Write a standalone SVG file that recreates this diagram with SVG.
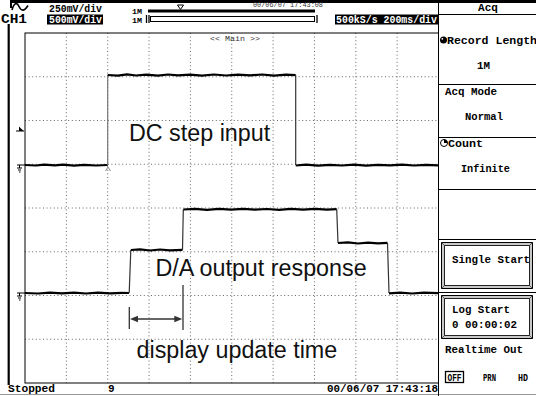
<svg xmlns="http://www.w3.org/2000/svg" width="536" height="396" viewBox="0 0 536 396">
<style>
.grid{stroke:#666;stroke-width:1;stroke-dasharray:1 2.6;fill:none}
.border{stroke:#000;stroke-width:1;fill:none}
.mono{font-family:"Liberation Mono","DejaVu Sans Mono",monospace;font-weight:bold;fill:#000}
.small{font-family:"Liberation Mono","DejaVu Sans Mono",monospace;fill:#333}
.inv{font-family:"Liberation Mono","DejaVu Sans Mono",monospace;font-weight:bold;fill:#fff}
.ann{font-family:"Liberation Sans",Arial,Helvetica,sans-serif;font-size:23.3px;fill:#111}
.trace{stroke:#000;stroke-width:2.2;fill:none;stroke-linejoin:round}
.edge{stroke:#333;stroke-width:1.2;fill:none}
.sep{stroke:#000;stroke-width:1;fill:none}
</style>
<rect width="536" height="396" fill="#fff"/>

<g id="frame">
  <path d="M10,1.5 H536" stroke="#000" stroke-width="3"/>
  <path d="M8.7,24 V385" stroke="#000" stroke-width="2.2"/>
  <path d="M12,10 C14,2.5 17,2 19,6.5 S24,12 28,5.5" stroke="#000" stroke-width="1.6" fill="none"/>
  <path d="M11,1 V8" stroke="#000" stroke-width="2"/>
  <path d="M0,394.5 H536" stroke="#999" stroke-width="1"/>
</g>

<g id="header">
  <text class="mono" x="49" y="11.5" font-size="10" textLength="53" lengthAdjust="spacingAndGlyphs">250mV/div</text>
  <text class="mono" x="1" y="23" font-size="12" textLength="26" lengthAdjust="spacingAndGlyphs">CH1</text>
  <rect x="47" y="14.5" width="56" height="10" fill="#000"/>
  <text class="inv" x="49" y="23" font-size="10" textLength="53" lengthAdjust="spacingAndGlyphs">500mV/div</text>
  <text class="mono" x="132" y="14" font-size="7" textLength="10" lengthAdjust="spacingAndGlyphs">1M</text>
  <text class="mono" x="132" y="22.5" font-size="7" textLength="10" lengthAdjust="spacingAndGlyphs">1M</text>
  <rect x="148" y="9.5" width="167" height="3" fill="#000"/>
  <rect x="150.5" y="16.5" width="164" height="5" fill="#fff" stroke="#000" stroke-width="1"/>
  <path d="M146.5,15 V23 M149,15 V23 M317,15 V23" stroke="#000" stroke-width="1.3"/>
  <polygon points="177.5,5 183.5,5 180.5,9.5" fill="#fff" stroke="#000" stroke-width="1"/>
  <text class="small" x="253" y="7" font-size="7" textLength="70" lengthAdjust="spacingAndGlyphs">00/06/07 17:43:08</text>
  <rect x="335" y="14.5" width="103" height="10" fill="#000"/>
  <text class="inv" x="336" y="23" font-size="10" textLength="101" lengthAdjust="spacingAndGlyphs">500kS/s 200ms/div</text>
</g>

<g id="graticule">
  <path class="grid" d="M25,76.75 H438 M25,120.5 H438 M25,164.25 H438 M25,208 H438 M25,251.75 H438 M25,295.5 H438 M25,339.25 H438"/>
  <path class="grid" d="M66.35,33 V383 M107.7,33 V383 M149.05,33 V383 M190.4,33 V383 M231.75,33 V383 M273.1,33 V383 M314.45,33 V383 M355.8,33 V383 M397.15,33 V383"/>
  <rect class="border" x="25" y="33" width="413.5" height="350"/>
  <text class="small" x="210" y="41" font-size="8" textLength="50" lengthAdjust="spacingAndGlyphs">&lt;&lt; Main &gt;&gt;</text>
</g>

<g id="markers">
  <path d="M16,131 H24" stroke="#000" stroke-width="1"/>
  <polygon points="19,126.5 23.5,131 19,131" fill="#000"/>
  <path d="M17,165 H25 M19.5,165 V168 M17,168 H22 M18,170 H21 M19,172 H20.5" stroke="#000" stroke-width="1"/>
  <path d="M17,293 H25 M19.5,293 V296 M17,296 H22 M18,298 H21 M19,300 H20.5" stroke="#000" stroke-width="1"/>
  <path d="M105.5,171 L108,167 L110.5,171" stroke="#888" stroke-width="1" fill="none"/>
</g>

<g id="connectors">
  <g id="dc-step-trace">
    <path class="trace" d="M25,165 L36,165.5 L44,164.6 L55,165.4 L63,164.7 L74,165.6 L84,164.8 L96,165.5 L107.7,165"/>
    <path d="M107.7,165 V75" stroke="#777" stroke-width="1.2"/>
    <path class="trace" d="M107.7,75 L118,75.6 L127,74.4 L136,75.5 L146,74.6 L158,75.7 L168,74.5 L178,75.4 L190,74.7 L202,75.6 L214,74.5 L226,75.5 L238,74.6 L250,75.4 L262,74.5 L274,75.6 L286,74.7 L295.7,75.2"/>
    <path class="edge" d="M295.7,75 V165"/>
    <path class="trace" d="M295.7,165.5 L306,164.7 L318,165.6 L330,164.8 L342,165.5 L354,164.6 L366,165.7 L378,164.8 L390,165.4 L402,164.7 L414,165.5 L426,164.8 L438,165.3"/>
  </g>
  <g id="da-output-trace">
    <path class="trace" d="M25,293 L38,293.5 L50,292.6 L62,293.4 L74,292.7 L86,293.5 L98,292.6 L110,293.4 L122,292.8 L129,293"/>
    <path class="edge" d="M129.2,293 L130.8,250"/>
    <path class="trace" d="M130.8,250 L140,249.4 L150,250.5 L160,249.5 L170,250.4 L182.5,249.8"/>
    <path class="edge" d="M182.5,250 L183.3,209.5"/>
    <path class="trace" d="M183.3,209.5 L195,208.8 L207,209.8 L219,208.9 L231,209.7 L243,208.8 L255,209.6 L267,209 L279,209.8 L291,208.9 L303,209.7 L315,208.9 L327,209.6 L336.7,209.2"/>
    <path class="edge" d="M336.7,209 L338,243"/>
    <path class="trace" d="M338,243 L348,242.4 L358,243.5 L368,242.6 L378,243.4 L387.5,242.9"/>
    <path class="edge" d="M387.5,243 L389,293"/>
    <path class="trace" d="M389,293.4 L400,292.6 L412,293.5 L424,292.7 L438,293.2"/>
  </g>
  <g id="update-time-arrow">
    <path d="M129.3,307 V329 M183,285 V330" stroke="#333" stroke-width="1.3"/>
    <path d="M137,319 H175" stroke="#333" stroke-width="1.3"/>
    <polygon points="130,319 138,315.8 138,322.2" fill="#333"/>
    <polygon points="182.3,319 174.3,315.8 174.3,322.2" fill="#333"/>
  </g>
</g>

<g id="label-dc-step">
  <text class="ann" x="129" y="141">DC step input</text>
</g>
<g id="label-da-output">
  <text class="ann" x="155.5" y="275.5">D/A output response</text>
</g>
<g id="label-update-time">
  <text class="ann" x="136.5" y="357.5">display update time</text>
</g>

<g id="status-bar">
  <text class="mono" x="8" y="392" font-size="11" textLength="47" lengthAdjust="spacingAndGlyphs">Stopped</text>
  <text class="mono" x="108" y="392" font-size="11">9</text>
  <text class="mono" x="327" y="392" font-size="11" textLength="111" lengthAdjust="spacingAndGlyphs">00/06/07 17:43:18</text>
</g>

<g id="side-panel">
  <path class="sep" d="M438.5,3 V396"/>
  <text class="mono" x="488" y="11" font-size="11" text-anchor="middle">Acq</text>
  <path class="sep" d="M438.5,14.5 H536"/>
  <g id="record-length">
    <circle cx="443.5" cy="40" r="3.5" fill="#000"/>
    <circle cx="442.3" cy="38.8" r="0.9" fill="#fff"/>
    <text class="mono" x="447" y="44" font-size="11" textLength="90" lengthAdjust="spacingAndGlyphs">Record Length</text>
    <text class="mono" x="477" y="69" font-size="11" textLength="13" lengthAdjust="spacingAndGlyphs">1M</text>
  </g>
  <path class="sep" d="M438.5,84.5 H536"/>
  <g id="acq-mode">
    <text class="mono" x="445" y="95" font-size="11" textLength="52" lengthAdjust="spacingAndGlyphs">Acq Mode</text>
    <text class="mono" x="465" y="120" font-size="11" textLength="38" lengthAdjust="spacingAndGlyphs">Normal</text>
  </g>
  <path class="sep" d="M438.5,137.5 H536"/>
  <g id="count">
    <circle cx="444" cy="143" r="3.5" fill="#fff" stroke="#000" stroke-width="1"/>
    <path d="M444,143 V139.5 A3.5,3.5 0 0 1 447.5,143 Z" fill="#000"/>
    <text class="mono" x="448" y="147" font-size="11" textLength="35" lengthAdjust="spacingAndGlyphs">Count</text>
    <text class="mono" x="461" y="172" font-size="11" textLength="49" lengthAdjust="spacingAndGlyphs">Infinite</text>
  </g>
  <path class="sep" d="M438.5,189.5 H536 M438.5,239.5 H536"/>
  <g id="single-start">
    <rect x="441.5" y="242.5" width="91" height="46" fill="#c8c8c8" stroke="#000" stroke-width="1"/>
    <rect x="444.5" y="245.5" width="85" height="40" fill="#fff" stroke="#222" stroke-width="1"/>
    <path d="M441.5,242.5 L444.5,245.5 M532.5,242.5 L529.5,245.5 M441.5,288.5 L444.5,285.5 M532.5,288.5 L529.5,285.5" stroke="#555" stroke-width="1"/>
    <text class="mono" x="452" y="263" font-size="11" textLength="78" lengthAdjust="spacingAndGlyphs">Single Start</text>
  </g>
  <path class="sep" d="M438.5,292.5 H536"/>
  <g id="log-start">
    <rect x="441.5" y="295.5" width="91" height="43" fill="#c8c8c8" stroke="#000" stroke-width="1"/>
    <rect x="444.5" y="298.5" width="85" height="37" fill="#fff" stroke="#222" stroke-width="1"/>
    <path d="M441.5,295.5 L444.5,298.5 M532.5,295.5 L529.5,298.5 M441.5,338.5 L444.5,335.5 M532.5,338.5 L529.5,335.5" stroke="#555" stroke-width="1"/>
    <text class="mono" x="452" y="313" font-size="11" textLength="58" lengthAdjust="spacingAndGlyphs">Log Start</text>
    <text class="mono" x="452" y="328" font-size="11" textLength="65" lengthAdjust="spacingAndGlyphs">0 00:00:02</text>
  </g>
  <g id="realtime-out">
    <text class="mono" x="445" y="353" font-size="11" textLength="78" lengthAdjust="spacingAndGlyphs">Realtime Out</text>
    <rect x="445.5" y="371.5" width="18" height="11" fill="#fff" stroke="#000" stroke-width="1.3"/>
    <text class="mono" x="447.5" y="381" font-size="10" textLength="14" lengthAdjust="spacingAndGlyphs">OFF</text>
    <text class="mono" x="483" y="381" font-size="10" textLength="13" lengthAdjust="spacingAndGlyphs">PRN</text>
    <text class="mono" x="518" y="381" font-size="10" textLength="10" lengthAdjust="spacingAndGlyphs">HD</text>
  </g>
</g>
</svg>
